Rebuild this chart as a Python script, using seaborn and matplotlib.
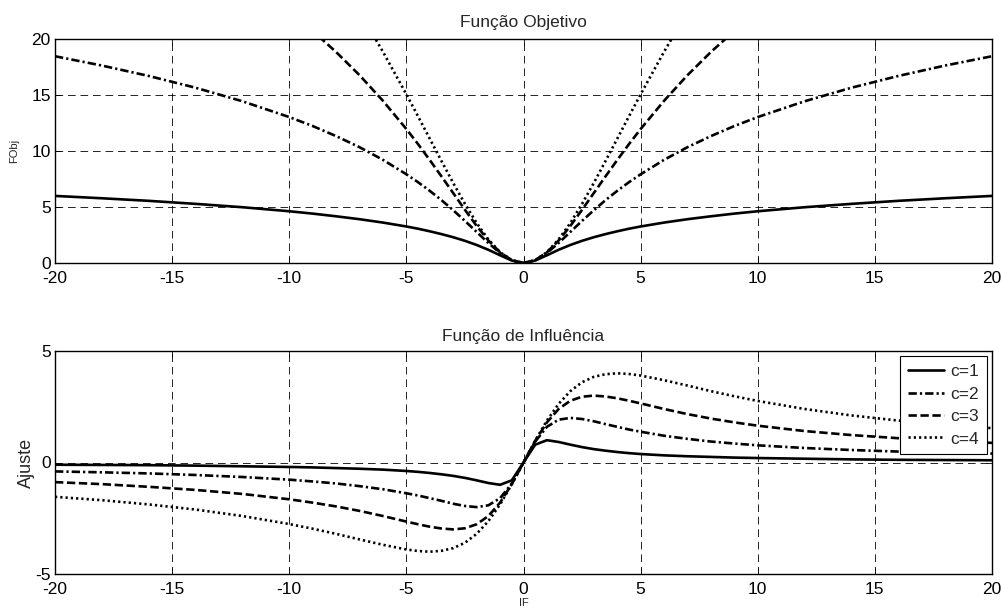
import matplotlib
matplotlib.use("Agg")
import matplotlib.pyplot as plt
import seaborn as sns
import pandas as pd

# ---------------- data ----------------
x = [-20, -18, -16, -14, -12, -10, -9, -8, -7, -6, -5, -4.5, -4, -3.5, -3, -2.5, -2, -1.5, -1, -0.5,
     0,
     0.5, 1, 1.5, 2, 2.5, 3, 3.5, 4, 4.5, 5, 6, 7, 8, 9, 10, 12, 14, 16, 18, 20]

fobj_c1 = [5.99, 5.78, 5.55, 5.28, 4.98, 4.62, 4.41, 4.17, 3.91, 3.61, 3.26, 3.06, 2.83, 2.58, 2.30, 1.98, 1.61, 1.18, 0.69, 0.22,
           0,
           0.22, 0.69, 1.18, 1.61, 1.98, 2.30, 2.58, 2.83, 3.06, 3.26, 3.61, 3.91, 4.17, 4.41, 4.62, 4.98, 5.28, 5.55, 5.78, 5.99]
fobj_c2 = [18.46, 17.63, 16.70, 15.65, 14.44, 13.03, 12.23, 11.33, 10.34, 9.21, 7.92, 7.21, 6.44, 5.61, 4.71, 3.76, 2.77, 1.79, 0.89, 0.24,
           0,
           0.24, 0.89, 1.79, 2.77, 3.76, 4.71, 5.61, 6.44, 7.21, 7.92, 9.21, 10.34, 11.33, 12.23, 13.03, 14.44, 15.65, 16.70, 17.63, 18.46]
fobj_c3 = [34.35, 32.50, 30.44, 28.13, 25.50, 22.45, 20.72, 18.84, 16.77, 14.48, 11.96, 10.61, 9.19, 7.73, 6.24, 4.75, 3.31, 2.01, 0.95, 0.25,
           0,
           0.25, 0.95, 2.01, 3.31, 4.75, 6.24, 7.73, 9.19, 10.61, 11.96, 14.48, 16.77, 18.84, 20.72, 22.45, 25.50, 28.13, 30.44, 32.50, 34.35]
fobj_c4 = [52.13, 48.90, 45.33, 41.34, 36.84, 31.70, 28.83, 25.75, 22.43, 18.86, 15.06, 13.09, 11.09, 9.10, 7.14, 5.28, 3.57, 2.11, 0.97, 0.25,
           0,
           0.25, 0.97, 2.11, 3.57, 5.28, 7.14, 9.10, 11.09, 13.09, 15.06, 18.86, 22.43, 25.75, 28.83, 31.70, 36.84, 41.34, 45.33, 48.90, 52.13]

infl_c1 = [-0.10, -0.11, -0.12, -0.14, -0.17, -0.20, -0.22, -0.25, -0.28, -0.32, -0.38, -0.42, -0.47, -0.53, -0.60, -0.69, -0.80, -0.92, -1.00, -0.80,
           0,
           0.80, 1.00, 0.92, 0.80, 0.69, 0.60, 0.53, 0.47, 0.42, 0.38, 0.32, 0.28, 0.25, 0.22, 0.20, 0.17, 0.14, 0.12, 0.11, 0.10]
infl_c2 = [-0.40, -0.44, -0.49, -0.56, -0.65, -0.77, -0.85, -0.94, -1.06, -1.20, -1.38, -1.48, -1.60, -1.72, -1.85, -1.95, -2.00, -1.92, -1.60, -0.94,
           0,
           0.94, 1.60, 1.92, 2.00, 1.95, 1.85, 1.72, 1.60, 1.48, 1.38, 1.20, 1.06, 0.94, 0.85, 0.77, 0.65, 0.56, 0.49, 0.44, 0.40]
infl_c3 = [-0.88, -0.97, -1.09, -1.23, -1.41, -1.65, -1.80, -1.97, -2.17, -2.40, -2.65, -2.77, -2.88, -2.96, -3.00, -2.95, -2.77, -2.40, -1.80, -0.97,
           0,
           0.97, 1.80, 2.40, 2.77, 2.95, 3.00, 2.96, 2.88, 2.77, 2.65, 2.40, 2.17, 1.97, 1.80, 1.65, 1.41, 1.23, 1.09, 0.97, 0.88]
infl_c4 = [-1.54, -1.69, -1.88, -2.11, -2.40, -2.76, -2.97, -3.20, -3.45, -3.69, -3.90, -3.97, -4.00, -3.96, -3.84, -3.60, -3.20, -2.63, -1.88, -0.98,
           0,
           0.98, 1.88, 2.63, 3.20, 3.60, 3.84, 3.96, 4.00, 3.97, 3.90, 3.69, 3.45, 3.20, 2.97, 2.76, 2.40, 2.11, 1.88, 1.69, 1.54]

labels = ["c=1", "c=2", "c=3", "c=4"]
x_ticks = [-20, -15, -10, -5, 0, 5, 10, 15, 20]
y_ticks_top = [0, 5, 10, 15, 20]
y_ticks_bot = [-5, 0, 5]

# ---------------- style ----------------
sns.set_theme(style="white")
plt.rcParams["font.family"] = ["Liberation Sans", "DejaVu Sans"]
plt.rcParams["lines.scale_dashes"] = False
plt.rcParams["axes.edgecolor"] = "black"
plt.rcParams["axes.linewidth"] = 0.8

styles = [
    "-",
    (0, (6.0, 2.2, 1.6, 2.2)),
    (0, (6.0, 2.6)),
    (0, (1.6, 2.2)),
]
lw = 1.9
FS = 12.5

fig = plt.figure(figsize=(10.03, 6.09), dpi=100)
ax1 = fig.add_axes([55 / 1003, 1 - 263 / 609, (992 - 55) / 1003, (263 - 39) / 609])
ax2 = fig.add_axes([55 / 1003, 1 - 574 / 609, (992 - 55) / 1003, (574 - 351) / 609])

top_df = pd.DataFrame({"x": x, "c=1": fobj_c1, "c=2": fobj_c2, "c=3": fobj_c3, "c=4": fobj_c4})
bot_df = pd.DataFrame({"x": x, "c=1": infl_c1, "c=2": infl_c2, "c=3": infl_c3, "c=4": infl_c4})

for lab, ls in zip(labels, styles):
    sns.lineplot(data=top_df, x="x", y=lab, ax=ax1, color="black", linewidth=lw,
                 linestyle=ls, estimator=None, sort=False)
    sns.lineplot(data=bot_df, x="x", y=lab, ax=ax2, color="black", linewidth=lw,
                 linestyle=ls, estimator=None, sort=False, label=lab)


def style_axes(ax, yticks, ylim):
    ax.set_xlim(-20, 20)
    ax.set_ylim(*ylim)
    ax.set_xticks(x_ticks)
    ax.set_xticklabels([str(t) for t in x_ticks])
    ax.set_yticks(yticks)
    ax.set_yticklabels([str(t) for t in yticks])
    ax.grid(True, color="black", linestyle=(0, (5.5, 3.5)), linewidth=0.6)
    ax.tick_params(direction="in", length=4, width=0.6, colors="black",
                   labelsize=FS, top=True, right=True, bottom=True, left=True)
    ax.tick_params(axis="x", pad=5.5)
    ax.tick_params(axis="y", pad=3)
    for s in ax.spines.values():
        s.set_visible(True)
        s.set_color("black")
        s.set_linewidth(1.0)


style_axes(ax1, y_ticks_top, (0, 20))
style_axes(ax2, y_ticks_bot, (-5, 5))

ax1.set_title("Função Objetivo", fontsize=12.5, pad=9)
ax2.set_title("Função de Influência", fontsize=12.5, pad=7)
ax1.set_ylabel("FObj", fontsize=8, labelpad=9)
ax1.set_xlabel("")
ax2.set_ylabel("Ajuste", fontsize=13, labelpad=0)
ax2.set_xlabel("IF", fontsize=8, labelpad=1)

leg = ax2.legend(loc="upper right", fontsize=FS, frameon=True, fancybox=False,
                 framealpha=1, edgecolor="black", handlelength=2.1, handletextpad=0.35,
                 borderpad=0.45, labelspacing=0.42, borderaxespad=0.3)
leg.get_frame().set_linewidth(0.8)

fig.savefig("out.png", dpi=100)
